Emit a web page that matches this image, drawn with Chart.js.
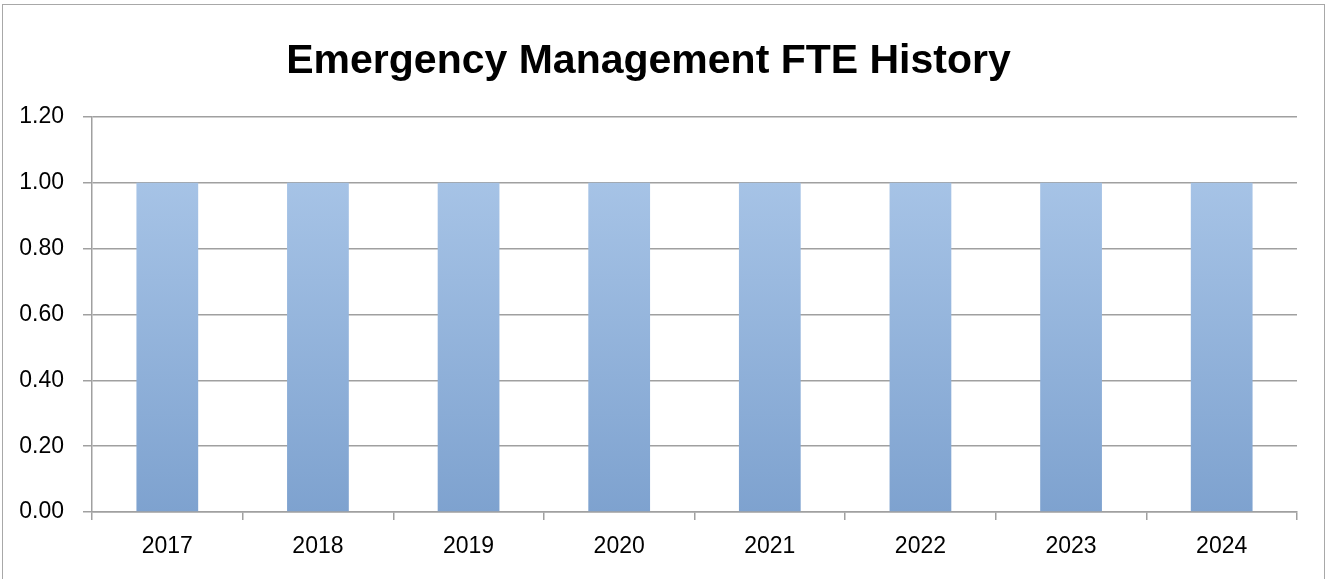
<!DOCTYPE html>
<html lang="en">
<head>
    <meta charset="UTF-8">
    <title>Emergency Management FTE History</title>
    <script src="https://cdn.jsdelivr.net/npm/chart.js"></script>
    <style>
        body { margin: 0; background: #fff; }
        #wrap { position: relative; width: 1326px; height: 579px; }
    </style>
</head>
<body>
    <div id="wrap"><canvas id="fteChart" width="1326" height="579"></canvas></div>

    <script>
        const years = ["2017", "2018", "2019", "2020", "2021", "2022", "2023", "2024"];
        const fteValues = [1.00, 1.00, 1.00, 1.00, 1.00, 1.00, 1.00, 1.00];
        const yTicks = [0, 0.2, 0.4, 0.6, 0.8, 1.0, 1.2];

        const gridGray = "#a0a0a0";

        // outer frame like the spreadsheet chart box
        const framePlugin = {
            id: "frame",
            beforeDraw(chart) {
                const c = chart.ctx;
                c.save();
                c.fillStyle = "#fff";
                c.fillRect(0, 0, chart.width, chart.height);
                c.strokeStyle = "#a8a8a8";
                c.lineWidth = 1;
                c.strokeRect(2.5, 4.5, 1322, 590);
                c.restore();
            }
        };

        function barGradient(context) {
            const area = context.chart.chartArea;
            if (!area) return "#92b3dc";
            const y = context.chart.scales.y;
            const g = context.chart.ctx.createLinearGradient(0, y.getPixelForValue(1), 0, y.getPixelForValue(0));
            g.addColorStop(0, "#a6c3e6");
            g.addColorStop(1, "#7ea2cf");
            return g;
        }

        new Chart(document.getElementById("fteChart"), {
            type: "bar",
            data: {
                labels: years,
                datasets: [{
                    data: fteValues,
                    backgroundColor: barGradient,
                    borderWidth: 0,
                    barPercentage: 0.41,
                    categoryPercentage: 1
                }]
            },
            options: {
                responsive: false,
                animation: false,
                layout: { padding: { left: 0, right: 29, top: 0, bottom: 0 } },
                plugins: {
                    legend: { display: false },
                    tooltip: { enabled: false },
                    title: {
                        display: true,
                        text: "Emergency Management FTE History",
                        color: "#000",
                        font: { family: "Liberation Sans", size: 41, weight: "bold", lineHeight: 1.2 },
                        padding: { top: 37, bottom: 30.8 }
                    }
                },
                scales: {
                    x: {
                        afterFit(scale) { scale.height = 67; },
                        grid: { offset: true, drawOnChartArea: false, color: gridGray, lineWidth: 1.5, tickLength: 8 },
                        border: { color: gridGray, width: 1.5 },
                        ticks: { color: "#000", padding: 13, font: { family: "Liberation Sans", size: 23 } }
                    },
                    y: {
                        min: 0,
                        max: 1.2,
                        afterFit(scale) { scale.width = 92; },
                        afterBuildTicks(scale) { scale.ticks = yTicks.map(v => ({ value: v })); },
                        grid: { color: gridGray, lineWidth: 1.5, tickLength: 9 },
                        border: { color: gridGray, width: 1.5 },
                        ticks: {
                            color: "#000",
                            padding: 19,
                            font: { family: "Liberation Sans", size: 23 },
                            callback: v => Number(v).toFixed(2)
                        }
                    }
                }
            },
            plugins: [framePlugin]
        });
    </script>
</body>
</html>
